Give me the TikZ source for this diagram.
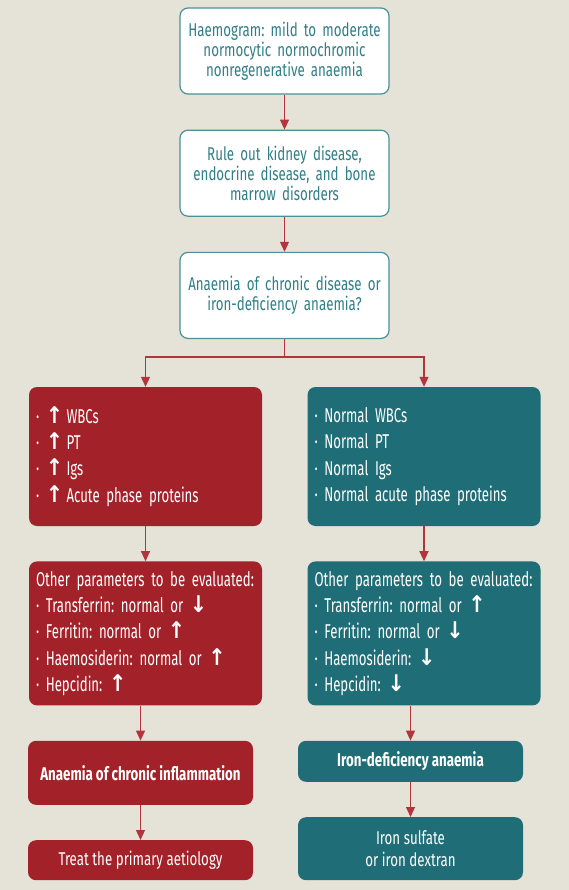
\documentclass[tikz,border=0pt]{standalone}
\usepackage{fontspec}
\setmainfont{Fira Sans}[FakeStretch=0.72]
\newfontfamily\listfont{Fira Sans}[FakeStretch=0.66]
\newfontfamily\arrowfont{DejaVu Sans}[FakeStretch=0.9]
\usetikzlibrary{positioning}
\usetikzlibrary{arrows.meta}
\frenchspacing
\hyphenpenalty=10000

\definecolor{bg}{HTML}{E5E2D8}
\definecolor{redfill}{HTML}{A32129}
\definecolor{tealfill}{HTML}{1F6E77}
\definecolor{topline}{HTML}{4A9198}
\definecolor{toptext}{HTML}{2F7F87}
\definecolor{arrowred}{HTML}{B3343C}

\newcommand{\uparr}{{\arrowfont\bfseries\fontsize{23}{26}\selectfont ↑}}
\newcommand{\dnarr}{{\arrowfont\bfseries\fontsize{23}{26}\selectfont ↓}}

\begin{document}
\begin{tikzpicture}[
                            x=1pt, y=1pt,
                            node distance=35pt,
                            topbox/.style={draw=topline, line width=1.2pt, fill=white, rounded corners=8pt,
                                           text=toptext, text width=196pt, align=center,
                                           minimum width=209pt, minimum height=86pt,
                                           font=\fontsize{18.5}{20}\selectfont},
                            listbox/.style={rounded corners=8pt, text=white, text width=219pt, align=left,
                                            inner xsep=7pt, font=\listfont\fontsize{20}{26.3}\selectfont},
                            redbox/.style={listbox, fill=redfill},
                            tealbox/.style={listbox, fill=tealfill},
                            endbox/.style={rounded corners=8pt, text=white, align=center,
                                           minimum width=225pt, font=\fontsize{18.5}{22}\selectfont},
                            link/.style={draw=arrowred, line width=1.1pt, -{Triangle[width=9pt,length=10pt]}}
                            ]
                            \fill[bg] (0,0) rectangle (569,-890);
                            \useasboundingbox (0,0) rectangle (569,-890);

                            \node[topbox]                   (haem)  at (284.5,-51)  {Haemogram: mild to moderate\\normocytic normochromic\\nonregenerative anaemia};
                            \node[topbox, below=of haem]    (rule)                  {Rule out kidney disease,\\endocrine disease, and bone\\marrow disorders};
                            \node[topbox, below=of rule]    (which)                 {Anaemia of chronic disease or\\iron-deficiency anaemia?};

                            \node[redbox, minimum height=139pt]  (raised) at (145.5,-456.5)
                                {· \uparr\,WBCs\\· \uparr\,PT\\· \uparr\,Igs\\· \uparr\,Acute phase proteins};
                            \node[tealbox, minimum height=139pt] (normal) at (424,-456.5)
                                {· Normal WBCs\\· Normal PT\\· Normal Igs\\· Normal acute phase proteins};

                            \node[redbox, minimum height=144pt, below=of raised]  (redparams)
                                {Other parameters to be evaluated:\\· Transferrin: normal or \dnarr\\· Ferritin: normal or \uparr\\· Haemosiderin: normal or \uparr\\· Hepcidin: \uparr};
                            \node[tealbox, minimum height=144pt, below=of normal] (tealparams)
                                {Other parameters to be evaluated:\\· Transferrin: normal or \uparr\\· Ferritin: normal or \dnarr\\· Haemosiderin: \dnarr\\· Hepcidin: \dnarr};

                            \node[endbox, fill=redfill, minimum height=64pt, below=of redparams, xshift=-5pt]      (inflam)   {\bfseries Anaemia of chronic inflammation};
                            \node[endbox, fill=redfill, minimum height=40pt, below=of inflam]                      (treat)    {Treat the primary aetiology};
                            \node[endbox, fill=tealfill, minimum height=41pt, below=of tealparams, xshift=-13.5pt] (irondef)  {\bfseries Iron-deficiency anaemia};
                            \node[endbox, fill=tealfill, minimum height=63pt, below=of irondef]                    (ironsulf) {Iron sulfate\\or iron dextran};

                            \draw[link] (haem) -- (rule);
                            \draw[link] (rule) -- (which);
                            \draw[link] (which.south) -- ++(0,-18) -| (raised.north);
                            \draw[link] (which.south) -- ++(0,-18) -| (normal.north);
                            \draw[link] (raised) -- (redparams);
                            \draw[link] (normal) -- (tealparams);
                            \draw[link] (inflam.north |- redparams.south) -- (inflam.north);
                            \draw[link] (inflam) -- (treat);
                            \draw[link] (irondef.north |- tealparams.south) -- (irondef.north);
                            \draw[link] (irondef) -- (ironsulf);
                        \end{tikzpicture}
\end{document}
